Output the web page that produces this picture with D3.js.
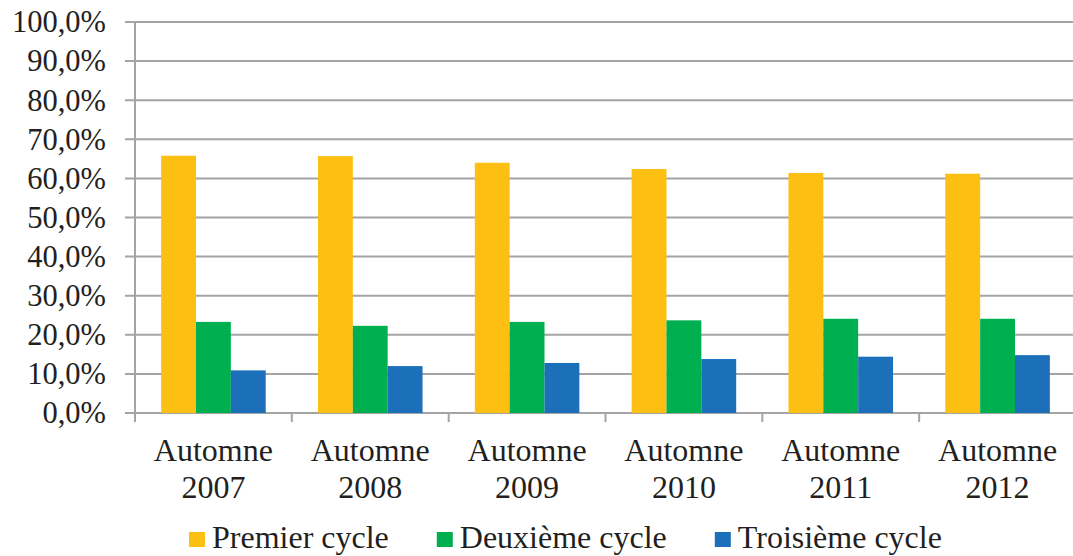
<!DOCTYPE html>
<html>
<head>
<meta charset="utf-8">
<script src="https://cdn.jsdelivr.net/npm/d3@7"></script>
<style>
body{margin:0;background:#fff;}
text{font-family:"Liberation Serif","Times New Roman",serif;fill:#231f20;}
</style>
</head>
<body>
<svg id="chart"></svg>
<script>
// data
var categories = ["Automne 2007","Automne 2008","Automne 2009","Automne 2010","Automne 2011","Automne 2012"]
var seriesNames = ["Premier cycle","Deuxième cycle","Troisième cycle"]
var premier = [65.8,65.7,64.0,62.4,61.4,61.2]
var deuxieme = [23.3,22.3,23.3,23.7,24.1,24.1]
var troisieme = [10.9,12.0,12.8,13.8,14.4,14.8]
var yTicks = [0,10,20,30,40,50,60,70,80,90,100]
var colors = ["#fdbf12","#00af50","#1b70b9"]

var screen = {width:1073,height:556}
var margins = {left:135,right:-3,top:22,bottom:143}

var graph = {
    width:screen.width-margins.left-margins.right,
    height:screen.height-margins.top-margins.bottom
}

var svg = d3.select("#chart")
    .attr("width",screen.width)
    .attr("height",screen.height)

var xScale = d3.scaleBand()
    .domain(categories)
    .range([0,graph.width])

var inner = d3.scaleBand()
    .domain(seriesNames)
    .range([0,xScale.bandwidth()])
    .paddingOuter(0.75)
    .paddingInner(0)

var yScale = d3.scaleLinear()
    .domain([0,100])
    .range([graph.height,0])

var target = svg.append("g")
    .attr("transform","translate("+margins.left+","+margins.top+")")

// gridlines with the small tick to the left
target.append("g")
    .selectAll("line")
    .data(yTicks)
    .enter()
    .append("line")
    .attr("x1",-10)
    .attr("x2",graph.width)
    .attr("y1",function(d){return yScale(d)})
    .attr("y2",function(d){return yScale(d)})
    .attr("stroke","#a4a4a6")
    .attr("stroke-width",2)

// y labels
target.append("g")
    .selectAll("text")
    .data(yTicks)
    .enter()
    .append("text")
    .text(function(d){return d.toFixed(1).replace(".",",")+"%"})
    .attr("x",-29)
    .attr("y",function(d){return yScale(d)})
    .attr("dy","0.34em")
    .attr("text-anchor","end")
    .style("font-size","30.5px")

// bars
var rows = categories.map(function(c,i){
    return {cat:c,vals:[premier[i],deuxieme[i],troisieme[i]]}
})

var groups = target.selectAll(".grp")
    .data(rows)
    .enter()
    .append("g")
    .attr("transform",function(r){return "translate("+xScale(r.cat)+",0)"})

groups.selectAll("rect")
    .data(function(r){return r.vals.map(function(v,j){return {name:seriesNames[j],v:v,j:j}})})
    .enter()
    .append("rect")
    .attr("x",function(d){return inner(d.name)})
    .attr("y",function(d){return yScale(d.v)})
    .attr("width",inner.bandwidth())
    .attr("height",function(d){return graph.height-yScale(d.v)})
    .attr("fill",function(d){return colors[d.j]})

// vertical axis line
target.append("line")
    .attr("x1",0).attr("x2",0)
    .attr("y1",0).attr("y2",graph.height+9)
    .attr("stroke","#a4a4a6")
    .attr("stroke-width",2)

// x tick marks at band edges
var edges = categories.map(function(c){return xScale(c)})
target.append("g")
    .selectAll("line")
    .data(edges)
    .enter()
    .append("line")
    .attr("x1",function(d){return d}).attr("x2",function(d){return d})
    .attr("y1",graph.height).attr("y2",graph.height+9)
    .attr("stroke","#a4a4a6")
    .attr("stroke-width",2)

// x labels in two lines
var xl = target.append("g")
    .selectAll("text")
    .data(categories)
    .enter()
    .append("text")
    .attr("text-anchor","middle")
    .style("font-size","32px")
xl.append("tspan")
    .attr("x",function(c){return xScale(c)+xScale.bandwidth()/2})
    .attr("y",graph.height+48)
    .text(function(c){return c.split(" ")[0]})
xl.append("tspan")
    .attr("x",function(c){return xScale(c)+xScale.bandwidth()/2})
    .attr("y",graph.height+85)
    .text(function(c){return c.split(" ")[1]})

// legend
var legend = svg.append("g")
var lx = 189
seriesNames.forEach(function(n,i){
    var item = legend.append("g").attr("transform","translate("+lx+",0)")
    item.append("rect")
        .attr("x",0).attr("y",532)
        .attr("width",16).attr("height",15)
        .attr("fill",colors[i])
    var t = item.append("text")
        .text(n)
        .attr("x",23)
        .attr("y",548)
        .style("font-size","32px")
    lx += 23 + t.node().getComputedTextLength() + 48
})
</script>
</body>
</html>
